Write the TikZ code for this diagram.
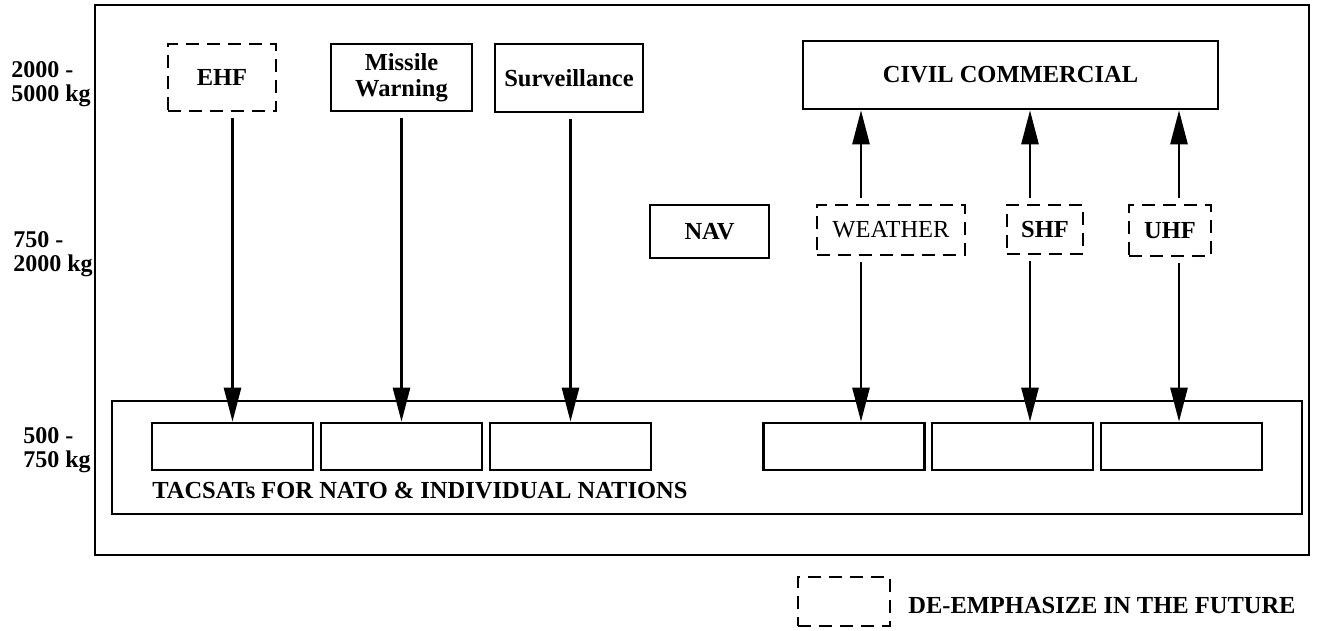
\documentclass[tikz,border=0pt]{standalone}
\usepackage{fontspec}
\setmainfont{Liberation Serif}
\usetikzlibrary{arrows.meta}
\begin{document}
\begin{tikzpicture}[x=1pt, y=-1pt, line width=2.6pt,
	box/.style={draw, rectangle, inner sep=0pt, font=\fontsize{24.5}{26}\selectfont\bfseries},
	dbox/.style={box, dash pattern=on 13pt off 8pt},
	arr/.style={-{Triangle[length=34pt, width=17pt]}},
	wlabel/.style={align=left, anchor=west, inner sep=0pt, font=\fontsize{24}{24}\selectfont\bfseries}]
			\useasboundingbox (0, 0) rectangle (1317, 631);
			\draw (95, 5) rectangle (1309, 555);

			\node[wlabel] (mass1) at (10, 84) {2000 -\\5000 kg};
			\node[wlabel] (mass2) at (12, 254) {750 -\\2000 kg};
			\node[wlabel] (mass3) at (22, 450) {500 -\\750 kg};

			\node[dbox, minimum width=108pt, minimum height=67pt] (ehf) at (222, 77.5) {EHF};
			\node[box, minimum width=141pt, minimum height=67pt, align=center] (missile) at (401.5, 77.5) {Missile\\Warning};
			\node[box, minimum width=148pt, minimum height=68pt] (surv) at (569, 78) {Surveillance};
			\node[box, minimum width=415pt, minimum height=68pt] (civil) at (1010.5, 75) {CIVIL COMMERCIAL};

			\node[box, minimum width=119pt, minimum height=53pt] (nav) at (709.5, 231.5) {NAV};
			\node[dbox, minimum width=148pt, minimum height=50pt, font=\fontsize{24.5}{26}\selectfont] (weather) at (891, 230) {WEATHER};
			\node[dbox, minimum width=76pt, minimum height=49pt] (shf) at (1045, 229.5) {SHF};
			\node[dbox, minimum width=82pt, minimum height=51pt] (uhf) at (1170, 230.5) {UHF};

			\node[box, minimum width=1190pt, minimum height=113pt] (tacsats) at (707, 457.5) {};
			\begin{scope}[every node/.style={box, minimum width=161pt, minimum height=47pt}]
				\node (tac1) at (232.5, 446.5) {};
				\node (tac2) at (401.5, 446.5) {};
				\node (tac3) at (570.5, 446.5) {};
				\node (tac4) at (844, 446.5) {};
				\node (tac5) at (1012.5, 446.5) {};
				\node (tac6) at (1181.5, 446.5) {};
			\end{scope}
			\node[anchor=west, inner sep=0pt, font=\fontsize{24.5}{26}\selectfont\bfseries] (tactext) at (151, 491) {TACSATs FOR NATO \& INDIVIDUAL NATIONS};

			\coordinate (wx) at ([xshift=17pt]tac4.north);
			\coordinate (sx) at ([xshift=17.5pt]tac5.north);
			\coordinate (ux) at ([xshift=-2.5pt]tac6.north);

			\begin{scope}[arr, shorten <=6pt]
				\draw (tac1.north |- ehf.south) -- (tac1.north);
				\draw (tac2.north |- missile.south) -- (tac2.north);
				\draw (tac3.north |- surv.south) -- (tac3.north);
				\draw (wx |- weather.south) -- (wx);
				\draw (sx |- shf.south) -- (sx);
				\draw (ux |- uhf.south) -- (ux);
				\draw (wx |- weather.north) -- (wx |- civil.south);
				\draw (sx |- shf.north) -- (sx |- civil.south);
				\draw (ux |- uhf.north) -- (ux |- civil.south);
			\end{scope}

			\node[dbox, minimum width=92pt, minimum height=49pt] (legend) at (844, 601.5) {};
			\node[anchor=west, inner sep=0pt, font=\fontsize{24.5}{26}\selectfont\bfseries] (legendtext) at (907, 605.5) {DE-EMPHASIZE IN THE FUTURE};
		\end{tikzpicture}
\end{document}
